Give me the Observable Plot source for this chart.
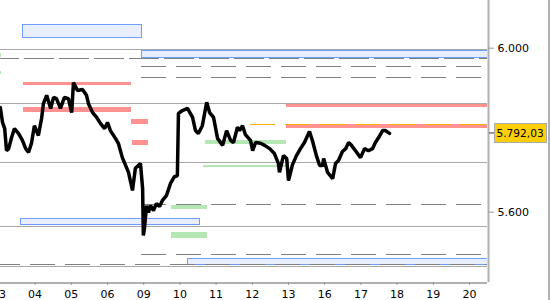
<!DOCTYPE html>
<html><head><meta charset="utf-8">
<script src="https://cdn.jsdelivr.net/npm/d3@7"></script>
<script src="https://cdn.jsdelivr.net/npm/@observablehq/plot@0.6"></script>
<style>
html,body{margin:0;padding:0;background:#fff;}
#chart{position:relative;width:550px;height:300px;overflow:hidden;}
</style></head><body><div id="chart"></div>
<script>
// Trading days (x ticks at integer day index)
const dayLabels = ["03","04","05","06","09","10","11","12","13","16","17","18","19","20"];
// Intraday price series: time in trading-day units, price
const priceTime = [0.04,0.10,0.16,0.21,0.27,0.35,0.43,0.54,0.65,0.74,
0.82,0.90,0.98,1.09,1.18,1.23,1.32,1.43,1.51,1.59,
1.70,1.81,1.92,2.01,2.06,2.17,2.31,2.42,2.48,2.59,
2.70,2.81,2.92,3.00,3.08,3.22,3.30,3.41,3.50,3.58,
3.69,3.77,3.91,3.97,3.99,4.02,4.08,4.13,4.19,4.27,
4.35,4.44,4.52,4.63,4.74,4.85,4.93,4.96,5.07,5.21,
5.35,5.43,5.51,5.62,5.74,5.82,5.93,6.04,6.18,6.29,
6.40,6.48,6.59,6.65,6.73,6.81,6.95,7.01,7.09,7.23,
7.34,7.48,7.61,7.72,7.75,7.86,7.95,8.00,8.11,8.22,
8.33,8.44,8.58,8.66,8.77,8.86,8.94,8.97,9.08,9.22,
9.30,9.38,9.49,9.58,9.66,9.74,9.85,9.99,10.10,10.21,
10.32,10.40,10.49,10.60,10.68,10.79];
const priceValue = [5855,5819,5804,5750,5755,5782,5804,5792,5775,5755,
5746,5768,5811,5787,5829,5865,5885,5853,5880,5877,
5853,5880,5877,5843,5916,5897,5899,5885,5863,5843,
5831,5816,5804,5819,5799,5780,5768,5733,5714,5697,
5653,5707,5719,5658,5543,5560,5616,5599,5616,5604,
5621,5614,5629,5641,5670,5687,5689,5841,5848,5853,
5831,5799,5792,5811,5868,5843,5831,5780,5763,5799,
5775,5770,5807,5799,5811,5789,5775,5750,5770,5768,
5763,5755,5743,5719,5697,5738,5731,5677,5716,5738,
5755,5770,5797,5775,5738,5714,5714,5731,5697,5682,
5719,5726,5748,5755,5770,5763,5750,5733,5755,5750,
5755,5770,5782,5799,5799,5792.03];
const lastPrice = 5792.03;
const yTicks = [6000, 5600];

// Solid gray levels
const gridLevels = [5996, 5864, 5720, 5565, 5467.5];
// Dashed gray levels starting at day 09
const dashLevels = [5955, 5928, 5618, 5496];
const dashStart = [3.948, 3.948, 3.948, 3.948];
// Full-width dashed levels
const dashFullA = [5974];
const dashFullB = [5472];
// Orange dashed level
const orangeLevel = [5814];
const orangeStart = [6.95];

// Blue zones
const blueT1 = [0.652, 3.948, 0.605, 5.218];
const blueT2 = [3.959, 13.6, 5.550, 13.6];
const blueLow = [6025, 5976, 5569, 5472];
const blueHigh = [6057, 5993, 5584, 5486];
// Red zones
const redT1 = [0.680, 0.680, 3.655, 3.691, 7.945, 7.945];
const redT2 = [3.663, 3.663, 4.124, 4.124, 13.6, 13.6];
const redLow = [5909, 5844, 5815, 5763, 5856, 5805];
const redHigh = [5917, 5855, 5826, 5775, 5863, 5814];
// Green zones
const greenT1 = [4.768, 4.768, 5.707, 5.652, -0.5, -0.5];
const greenT2 = [5.762, 5.762, 7.945, 7.945, 0.08, 0.08];
const greenLow = [5607, 5537, 5766, 5710, 5977, 5935];
const greenHigh = [5617, 5551, 5775, 5714, 5988, 5943];

const xMin = 0.0442, xMax = 13.497;
const loc = d3.formatLocale({decimal: ",", thousands: ".", grouping: [3], currency: ["", ""]});
const f0 = loc.format(",.0f"), f2 = loc.format(",.2f");

const plot = Plot.plot({
  width: 550, height: 300,
  marginTop: 0, marginLeft: 0, marginRight: 63, marginBottom: 18,
  style: {fontFamily: "'DejaVu Sans', Verdana, sans-serif", fontSize: "11px", background: "white", color: "#000"},
  x: {domain: [xMin, xMax], axis: null},
  y: {domain: [5428.5, 6116.3], axis: null},
  marks: [
    Plot.rect(blueT1, {x1: blueT1, x2: blueT2, y1: blueLow, y2: blueHigh, fill: "#e8eeff", stroke: "#6f9dff", strokeWidth: 1, clip: true, shapeRendering: "crispEdges"}),
    Plot.rect(redT1, {x1: redT1, x2: redT2, y1: redLow, y2: redHigh, fill: "#ff9191", clip: true, shapeRendering: "crispEdges"}),
    Plot.rect(greenT1, {x1: greenT1, x2: greenT2, y1: greenLow, y2: greenHigh, fill: "#b5e7b5", clip: true, shapeRendering: "crispEdges"}),
    Plot.ruleY(gridLevels, {stroke: "#a9a9a9", strokeWidth: 1, shapeRendering: "crispEdges"}),
    Plot.ruleY(dashFullA, {stroke: "#808080", strokeWidth: 1, strokeDasharray: "30,5", strokeDashoffset: 11, shapeRendering: "crispEdges"}),
    Plot.ruleY(dashLevels, {y: dashLevels, x1: dashStart, x2: dashLevels.map(() => xMax), stroke: "#808080", strokeWidth: 1, strokeDasharray: "25,10", shapeRendering: "crispEdges"}),
    Plot.ruleY(dashFullB, {stroke: "#808080", strokeWidth: 1, strokeDasharray: "25,10", strokeDashoffset: 5, shapeRendering: "crispEdges"}),
    Plot.ruleY(orangeLevel, {y: orangeLevel, x1: orangeStart, x2: orangeLevel.map(() => xMax), stroke: "#ffb000", strokeWidth: 1.2, strokeDasharray: "25,10", shapeRendering: "crispEdges"}),
    Plot.line(priceValue, {x: priceTime, y: priceValue, stroke: "#000", strokeWidth: 3.5, strokeLinejoin: "miter", clip: true}),
    Plot.ruleY([5428.5], {stroke: "#b0b0b0", strokeWidth: 2, dy: 0.5}),
    Plot.ruleX([xMax], {stroke: "#b0b0b0", strokeWidth: 2, dx: 1}),
    Plot.axisY({ticks: yTicks, anchor: "right", tickFormat: f0, tickSize: 6, tickPadding: 4, stroke: "#999", fill: "#000"}),
    Plot.axisX({ticks: d3.range(dayLabels.length), tickFormat: i => dayLabels[i], tickSize: 3, tickPadding: 5, stroke: "#999", fill: "#000"})
  ]
});
document.getElementById("chart").appendChild(plot);

// Last-price tag on the right axis, positioned through the plot's y scale
const svg = d3.select(plot);
const yc = plot.scale("y").apply(lastPrice);
const xr = plot.scale("x").range[1];
svg.append("line").attr("x1", 549).attr("x2", 549).attr("y1", 0).attr("y2", 300).attr("stroke", "#b0b0b0").attr("stroke-width", 2);
svg.append("line").attr("x1", xr + 2).attr("x2", xr + 8).attr("y1", yc).attr("y2", yc).attr("stroke", "#333").attr("stroke-width", 1);
svg.append("rect").attr("x", xr + 7.5).attr("y", Math.round(yc) - 9.5).attr("width", 52).attr("height", 19)
  .attr("fill", "#fccf0a").attr("stroke", "#a9a9a9").attr("stroke-width", 1);
svg.append("text").attr("x", xr + 9.5).attr("y", yc).attr("dy", "0.36em").attr("text-anchor", "start")
  .attr("font-family", "'DejaVu Sans', Verdana, sans-serif").attr("font-size", 10.6).attr("fill", "#000")
  .text(f2(lastPrice));
</script></body></html>
